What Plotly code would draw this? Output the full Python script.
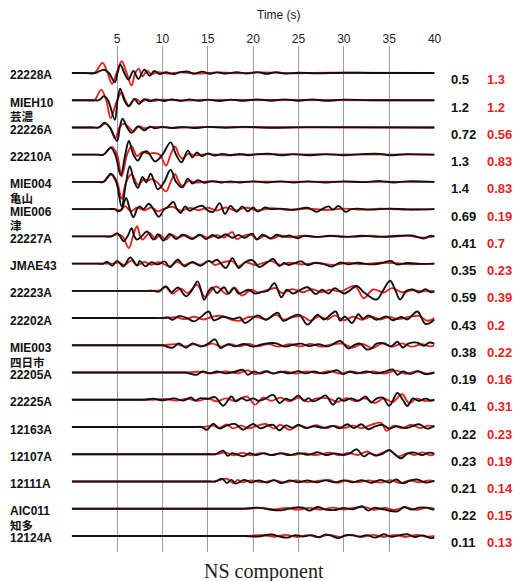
import plotly.graph_objects as go

# Station codes (top to bottom) and optional place names printed under them
stations = ["22228A", "MIEH10", "22226A", "22210A", "MIE004", "MIE006", "22227A",
            "JMAE43", "22223A", "22202A", "MIE003", "22205A", "22225A", "12163A",
            "12107A", "12111A", "AIC011", "12124A"]
place_names = ["", "芸濃", "", "", "亀山", "津", "", "", "", "", "四日市", "", "",
               "", "", "", "知多", ""]

# Peak values: observed (black) and synthetic (red)
obs_peak = ["0.5", "1.2", "0.72", "1.3", "1.4", "0.69", "0.41", "0.35", "0.59",
            "0.43", "0.38", "0.19", "0.41", "0.22", "0.23", "0.21", "0.22", "0.11"]
syn_peak = ["1.3", "1.2", "0.56", "0.83", "0.83", "0.19", "0.7", "0.23", "0.39",
            "0.2", "0.22", "0.16", "0.31", "0.23", "0.19", "0.14", "0.15", "0.13"]

time_ticks = [0, 5, 10, 15, 20, 25, 30, 35, 40]
time_tick_text = ["", "5", "10", "15", "20", "25", "30", "35", "40"]

# Normalised NS waveforms as (time [s], amplitude) pairs, amplitude in trace-spacing units
obs_22228A = [(0, 0), (1.5, 0), (2.6, 0), (3.55, 0.12), (4.1, 0), (4.75, -0.34), (5.05, 0), (5.35, 0.30), (5.8, 0),
              (6.25, -0.24), (6.8, 0.07), (7.35, -0.22), (8.0, 0.12), (8.6, -0.10), (9.1, 0.07), (9.7, -0.04),
              (10.4, 0.03), (11.2, -0.04), (12.0, 0.03), (12.8, 0.05), (13.5, -0.03), (14.4, 0.05), (15.2, -0.03),
              (16.0, 0.02), (17.0, -0.02), (18.2, 0.03), (19.3, -0.02), (20.5, 0.03), (21.5, -0.03), (22.5, 0.03),
              (23.5, -0.02), (25, 0.01), (27, -0.01), (30, 0.01), (33, 0), (40, 0)]
syn_22228A = [(0, 0), (1.5, 0), (2.5, 0), (3.4, 0.37), (3.95, 0), (4.45, -0.40), (4.95, 0), (5.5, 0.43), (6.05, 0),
              (6.6, -0.46), (7.0, 0), (7.4, 0.15), (7.8, -0.12), (8.3, 0.08), (8.8, -0.04), (9.5, 0.03),
              (10.5, -0.02), (12, 0.02), (14, -0.02), (16, 0.02), (18, -0.01), (21, 0.02), (24, -0.01),
              (28, 0.01), (40, 0)]

obs_MIEH10 = [(0, 0), (2.3, 0), (3.0, 0), (3.55, 0.15), (4.0, 0), (4.75, -0.72), (5.05, 0), (5.35, 0.42), (5.8, 0),
              (6.3, -0.22), (6.9, 0.05), (7.4, -0.14), (8.0, 0.04), (8.6, -0.04), (9.3, 0.03), (10.2, -0.03),
              (11.0, 0.03), (12, -0.02), (13, 0.03), (14, -0.02), (15, 0.02), (16.3, -0.03), (17.5, 0.02),
              (19, -0.02), (20.5, 0.03), (22, -0.02), (23.5, 0.03), (25, -0.02), (26.5, 0.03), (28, -0.02),
              (30, 0.02), (33, 0), (40, 0)]
syn_MIEH10 = [(0, 0), (1.8, 0), (2.5, 0), (3.25, 0.38), (3.8, 0), (4.3, -0.66), (4.9, -0.1), (5.5, 0.28), (5.9, 0),
              (6.3, -0.2), (7.0, 0.05), (7.6, -0.06), (8.3, 0.03), (9.0, -0.02), (10, 0.02), (12, -0.01),
              (15, 0.01), (40, 0)]

obs_22226A = [(0, 0), (2.3, 0), (3.0, 0), (3.6, 0.17), (4.2, 0), (5.0, -0.5), (5.3, 0), (5.6, 0.32), (6.1, 0),
              (6.6, -0.2), (7.3, 0.04), (8.0, -0.11), (8.6, 0.03), (9.2, -0.03), (10, 0.02), (11, -0.02),
              (12.2, 0.02), (13.5, -0.02), (15, 0.02), (17, -0.01), (19, 0.02), (22, -0.01), (26, 0.01), (40, 0)]
syn_22226A = [(0, 0), (2.3, 0), (3.0, 0), (3.7, 0.14), (4.2, 0), (4.8, -0.40), (5.25, 0), (5.8, 0.14), (6.3, 0),
              (6.8, -0.15), (7.4, 0.04), (8.0, -0.03), (9, 0.02), (11, -0.01), (14, 0.01), (40, 0)]

obs_22210A = [(0, 0), (2.8, 0), (3.5, 0), (4.3, 0.25), (4.8, 0), (5.4, -0.75), (5.9, 0), (6.3, 0.5), (6.8, 0),
              (7.3, -0.22), (7.8, 0.05), (8.3, 0.12), (9.2, -0.25), (10.0, 0), (10.9, 0.45), (11.5, 0),
              (12.1, -0.28), (12.8, 0.15), (13.3, -0.1), (13.8, 0.08), (14.3, -0.05), (15, 0.04), (15.8, -0.03),
              (16.6, 0.03), (17.5, -0.02), (18.5, 0.03), (19.5, -0.02), (20.5, 0.02), (22, 0.03), (23, -0.02),
              (24.5, 0.02), (26, -0.02), (28, 0.02), (30, -0.02), (32, 0.02), (34, 0.03), (35, -0.02),
              (37, 0.02), (40, 0)]
syn_22210A = [(0, 0), (2.8, 0), (3.5, 0), (4.4, 0.28), (5.0, 0), (5.5, -0.8), (6.1, 0), (6.6, 0.3), (7.2, -0.05),
              (7.8, 0.1), (8.5, 0.03), (9.0, 0.06), (9.7, 0), (10.4, -0.4), (10.9, 0), (11.4, 0.3), (11.8, 0),
              (12.2, -0.15), (12.8, 0.03), (13.5, -0.02), (15, 0.02), (17, -0.02), (20, 0.01), (24, 0.01), (40, 0)]

obs_MIE004 = [(0, 0), (2.8, 0), (3.5, 0), (4.3, 0.3), (4.9, 0), (5.5, -0.9), (6.0, 0), (6.4, 0.58), (6.9, 0),
              (7.3, -0.22), (7.8, 0.18), (8.2, -0.02), (8.7, 0.3), (9.1, 0), (9.5, -0.27), (10.2, 0),
              (10.9, 0.45), (11.5, 0), (12.2, -0.2), (12.8, 0.12), (13.3, -0.06), (13.9, 0.06), (14.6, -0.03),
              (15.5, 0.03), (16.5, -0.02), (17.5, 0.02), (18.5, -0.02), (20, 0.02), (21.5, -0.02), (23, 0.02),
              (24.5, -0.02), (26, 0.02), (28, -0.02), (30, 0.02), (32, -0.01), (34, 0.03), (35.5, -0.02),
              (37, 0.02), (40, 0)]
syn_MIE004 = [(0, 0), (2.8, 0), (3.5, 0), (4.4, 0.27), (5.0, 0), (5.5, -0.62), (6.0, 0), (6.6, 0.28), (7.3, -0.1),
              (8.0, 0.1), (8.4, 0.05), (8.8, 0.1), (9.4, 0), (10.4, -0.35), (10.9, 0), (11.4, 0.28), (11.8, 0),
              (12.2, -0.14), (12.9, 0.04), (13.6, -0.02), (15, 0.02), (17, -0.01), (20, 0.01), (40, 0)]

obs_MIE006 = [(0, 0), (4.0, 0), (4.7, 0), (5.1, -0.08), (5.5, 0), (6.0, 0.41), (6.4, 0), (6.8, -0.3), (7.2, 0),
              (7.5, 0.1), (7.9, 0), (8.5, 0.2), (9.0, 0), (9.6, -0.28), (10.2, 0), (10.5, 0.05), (11.2, 0.26),
              (11.6, 0), (12.0, -0.14), (12.5, 0.1), (13.0, -0.06), (13.6, 0.05), (14.4, 0.12), (15.0, -0.05),
              (15.6, -0.1), (16.3, 0.22), (16.9, -0.18), (17.5, 0.12), (18.2, -0.1), (18.8, 0.1), (19.4, -0.08),
              (20.0, 0.06), (20.5, -0.09), (21.3, 0.06), (22.0, 0.0), (23.0, 0.02), (24.5, -0.02), (26.0, 0.05),
              (27.0, -0.1), (27.6, 0), (28.3, 0.1), (28.8, -0.02), (29.4, 0.12), (30.2, -0.1), (30.8, 0),
              (31.5, 0.02), (33, -0.02), (35, 0.02), (37, -0.01), (40, 0)]
syn_MIE006 = [(0, 0), (4.1, 0), (4.8, 0), (5.4, -0.05), (5.9, 0.11), (6.5, -0.08), (7.2, 0.05), (8.0, -0.04),
              (8.8, 0.06), (9.5, -0.08), (10.2, 0.02), (11.2, 0.08), (12.0, -0.06), (13, 0.04), (14, -0.04),
              (15, 0.05), (16, -0.05), (17, 0.06), (18, -0.05), (19.2, 0.05), (20.5, -0.04), (22, 0.03),
              (24, -0.03), (26, 0.02), (28, -0.03), (30, 0.02), (32, -0.02), (34, 0.02), (36, -0.01), (40, 0)]

obs_22227A = [(0, 0), (3.7, 0), (4.4, 0), (5.0, 0.12), (5.35, 0), (5.7, -0.18), (6.15, 0), (6.6, 0.3), (6.9, 0),
              (7.2, -0.12), (7.7, 0), (8.3, 0.18), (9.0, -0.12), (9.5, 0.08), (10.1, -0.15), (10.8, 0.09),
              (11.5, -0.1), (12.2, 0.06), (13.3, -0.1), (14.1, 0.06), (14.8, -0.1), (15.5, 0.05), (16.2, -0.06),
              (17.0, 0.08), (17.7, -0.05), (18.4, 0.05), (19.1, -0.05), (19.9, 0.1), (20.4, -0.12), (21.0, 0.06),
              (21.9, -0.08), (22.6, 0.06), (23.3, -0.02), (24.0, 0.03), (24.9, -0.07), (25.6, 0.02), (27, -0.02),
              (28.5, 0.02), (30, -0.02), (32, 0.02), (34, -0.02), (36, 0.02), (37.5, 0.03), (38.8, -0.08),
              (39.5, 0.02), (40, 0)]
syn_22227A = [(0, 0), (3.6, 0), (4.3, 0), (5.0, 0.08), (5.6, 0), (6.3, -0.43), (6.75, 0), (7.2, 0.37), (7.55, 0),
              (7.8, -0.12), (8.6, 0.12), (9.2, -0.1), (9.7, 0.06), (10.4, -0.12), (11.0, 0.06), (11.7, -0.05),
              (12.5, 0.05), (13.3, -0.06), (14.2, 0.05), (15.0, -0.05), (16.0, 0.04), (16.8, -0.04), (17.7, 0.16),
              (18.2, -0.1), (19.0, 0.03), (19.7, 0.07), (20.5, -0.1), (21.3, 0.03), (22.0, -0.08), (23, 0.03),
              (24, -0.03), (25.5, 0.02), (27, -0.02), (29, 0.02), (31, -0.02), (33, 0.02), (35, -0.02),
              (37, 0.02), (38.8, -0.05), (40, 0)]

obs_JMAE43 = [(0, 0), (2.8, 0), (3.5, 0), (3.9, 0.07), (4.45, -0.08), (5.0, 0.1), (5.7, -0.1), (6.45, 0.23),
              (7.2, -0.07), (7.5, 0.1), (8.1, -0.1), (8.8, 0.05), (9.5, -0.03), (10.25, 0.08), (10.8, -0.13),
              (11.7, 0.14), (12.4, -0.1), (13.3, 0.06), (14.2, -0.08), (15.1, 0.1), (15.5, 0.05), (16.0, 0.14),
              (17.0, -0.16), (17.7, 0.2), (18.4, -0.16), (19.1, 0.05), (19.9, 0.13), (20.7, -0.13), (21.5, 0.03),
              (22.2, 0.17), (22.9, -0.09), (23.4, 0.02), (23.9, -0.05), (24.6, 0.02), (25.3, 0.08), (26.0, -0.05),
              (26.8, 0.02), (27.8, -0.02), (28.7, -0.11), (29.6, 0.04), (30.5, -0.03), (31.5, 0.03), (33, -0.03),
              (34.2, 0.02), (35.2, 0.1), (35.8, -0.03), (37, 0.02), (38.5, -0.01), (40, 0)]
syn_JMAE43 = [(0, 0), (3.8, 0), (4.5, 0), (5.2, 0.04), (5.8, -0.05), (6.6, 0.11), (7.2, -0.06), (8.0, 0.06),
              (8.8, -0.04), (9.6, 0.05), (10.8, -0.1), (11.6, 0.06), (12.4, -0.05), (13.2, 0.04), (14.2, -0.04),
              (15.1, 0.1), (15.8, -0.05), (16.5, 0.03), (17.7, 0.09), (18.4, -0.1), (19.2, 0.05), (20.2, -0.05),
              (22.0, 0.09), (22.9, -0.04), (24, 0.03), (25.5, -0.03), (27, 0.03), (28.8, -0.05), (30.5, 0.03),
              (32, -0.02), (34, 0.03), (35.5, 0.02), (37, -0.02), (40, 0)]

obs_22223A = [(0, 0), (8.3, 0), (9.0, 0), (9.6, -0.03), (10.4, 0.16), (11.0, -0.05), (11.7, 0.12), (12.6, -0.2),
              (13.2, 0), (13.9, 0.34), (14.6, -0.33), (15.1, 0), (15.5, 0.12), (16.0, -0.08), (16.8, 0.13),
              (17.3, -0.1), (17.9, 0.1), (18.4, -0.1), (19.5, 0.04), (20.2, -0.1), (21.0, -0.04), (21.6, 0),
              (22.35, 0.28), (23.1, -0.24), (23.7, 0.04), (24.4, -0.1), (25.0, 0), (26.0, 0.13), (26.9, -0.12),
              (27.6, 0.04), (28.3, -0.1), (29.0, 0.1), (30.0, -0.1), (30.6, 0), (31.4, 0.18), (32.2, -0.05),
              (33.6, -0.32), (34.3, 0), (35.1, 0.37), (35.7, 0), (36.2, -0.32), (36.9, 0), (37.6, 0.05),
              (38.3, -0.06), (39.0, 0.06), (39.6, -0.05), (40, -0.02)]
syn_22223A = [(0, 0), (8.3, 0), (9.0, 0), (9.7, 0.02), (10.3, 0.16), (11.1, -0.1), (12.0, 0.08), (12.8, -0.08),
              (13.8, 0.22), (14.7, -0.22), (15.9, 0.16), (17.1, -0.12), (17.9, 0.12), (18.8, -0.17), (19.8, 0.04),
              (20.5, -0.06), (21.5, 0.02), (22.5, 0.1), (23.2, -0.08), (24.3, 0.06), (25.5, -0.05), (26.5, 0.06),
              (27.5, -0.05), (28.6, 0.04), (29.6, -0.03), (31.2, 0.18), (32.2, -0.27), (33.2, 0.05), (34.4, -0.06),
              (35.3, 0.1), (36.4, -0.05), (37.5, 0.02), (38.5, -0.02), (40, 0)]

obs_22202A = [(0, 0), (9.3, 0), (10.0, 0), (10.6, 0.02), (11.1, -0.06), (11.85, 0.08), (12.7, 0.0), (13.5, -0.12),
              (14.2, 0.03), (15.1, 0.24), (15.65, -0.08), (16.7, 0.05), (17.8, -0.03), (18.55, 0.02),
              (19.1, -0.18), (20.5, 0.1), (21.4, -0.06), (22.7, 0.2), (23.3, -0.1), (24.35, 0.06), (25.1, 0.12),
              (26.0, -0.24), (27.1, 0.12), (27.8, -0.05), (29.1, 0.24), (29.6, -0.1), (30.1, 0.06), (30.9, -0.18),
              (31.6, 0.14), (32.1, -0.02), (32.7, 0.1), (33.6, -0.06), (34.7, 0.06), (35.4, -0.08), (36.3, 0.04),
              (37.0, -0.05), (38.1, 0.24), (39.0, -0.22), (40, -0.06)]
syn_22202A = [(0, 0), (9.3, 0), (10.0, 0), (11.5, 0.03), (12.5, -0.04), (13.5, 0.05), (14.5, -0.05), (15.5, 0.05),
              (16.5, 0.08), (17.5, -0.05), (18.5, -0.1), (19.5, 0.04), (20.5, 0.03), (21.5, -0.05), (22.5, 0.12),
              (23.4, -0.06), (24.5, 0.05), (25.5, 0.05), (26.3, -0.1), (27.2, 0.06), (28.2, -0.05), (29.0, 0.1),
              (30.0, -0.08), (31.0, 0.05), (32.0, -0.06), (33.0, 0.06), (34.0, -0.05), (35.0, 0.04), (36.0, -0.04),
              (37.2, 0.05), (38.3, 0.08), (39.2, -0.1), (40, 0)]

obs_MIE003 = [(0, 0), (9.3, 0), (10.0, 0), (11.1, -0.09), (11.8, 0.07), (12.6, -0.09), (13.3, 0.07), (14.2, -0.05),
              (15.0, 0.05), (15.8, 0.22), (16.4, -0.1), (17.2, 0.04), (18.0, -0.04), (19.0, 0.05), (20.0, -0.05),
              (21.0, 0.04), (22.4, 0.08), (23.5, -0.05), (24.5, 0.03), (25.3, 0.06), (26.2, -0.03), (27.2, 0.04),
              (28.3, -0.04), (29.6, 0.16), (30.5, -0.12), (31.2, 0.02), (31.8, 0.06), (32.5, -0.15), (33.0, -0.12),
              (33.6, 0.06), (34.4, 0.08), (35.2, -0.04), (35.9, 0.13), (36.5, -0.08), (37.1, 0.06), (38.1, 0.1),
              (38.8, -0.02), (39.4, 0.1), (40, 0.05)]
syn_MIE003 = [(0, 0), (9.3, 0), (10.0, 0), (11.5, 0.04), (12.5, -0.04), (13.5, 0.04), (14.5, -0.03), (15.5, 0.06),
              (16.5, -0.05), (17.5, 0.04), (18.5, -0.04), (19.5, 0.05), (20.5, -0.04), (21.7, 0.05), (22.8, -0.05),
              (24, 0.04), (25.2, -0.04), (26.3, 0.05), (27.5, -0.05), (28.6, 0.03), (29.8, 0.06), (31.0, -0.08),
              (32.0, 0.05), (33.2, -0.1), (34.2, 0.06), (35.3, -0.05), (36.4, 0.07), (37.5, -0.05), (38.6, 0.04),
              (39.5, -0.04), (40, 0)]

obs_22205A = [(0, 0), (11.8, 0), (12.5, 0), (13.8, -0.08), (14.4, 0.04), (15.2, -0.03), (16.0, 0.04), (17.0, -0.03),
              (18.0, 0.03), (18.9, 0.1), (19.4, -0.08), (20.1, 0.04), (20.8, -0.04), (21.5, 0.05), (22.2, -0.04),
              (23.0, 0.03), (24, -0.03), (25, 0.05), (25.8, -0.03), (26.7, 0.04), (27.6, -0.03), (28.5, 0.02),
              (29.3, 0.08), (29.9, -0.06), (30.6, 0.03), (31.5, -0.03), (32.5, 0.04), (33.5, -0.03), (34.5, 0.03),
              (35.4, 0.11), (35.9, -0.08), (36.5, 0.04), (37.3, -0.05), (38.2, 0.05), (39.0, -0.06), (40, 0)]
syn_22205A = [(0, 0), (11.8, 0), (12.5, 0), (14, 0.03), (15.5, -0.03), (17, 0.04), (18.3, -0.03), (19.4, 0.08),
              (20.2, -0.06), (21.2, 0.04), (22.3, -0.03), (23.5, 0.04), (24.7, -0.04), (26, 0.04), (27.2, -0.03),
              (28.4, 0.05), (29.6, -0.04), (30.8, 0.04), (32, -0.03), (33.2, 0.04), (34.4, -0.04), (35.8, 0.07),
              (36.8, -0.05), (38, 0.04), (39.2, -0.04), (40, 0)]

obs_22225A = [(0, 0), (7.3, 0), (8.0, 0), (9.0, 0.04), (10.0, -0.02), (11.3, 0.05), (12.3, -0.03), (13.2, 0.08),
              (13.6, -0.03), (14.2, 0.06), (15.0, 0.03), (15.8, 0.1), (16.7, -0.22), (17.6, 0.12), (18.1, -0.06),
              (18.7, 0.06), (19.3, -0.03), (20.0, 0.05), (20.6, -0.04), (21.3, 0.03), (22.2, 0.18), (22.9, -0.12),
              (23.6, 0.04), (24.2, -0.02), (25.0, 0.16), (25.6, -0.04), (26.1, 0.06), (26.6, -0.06), (27.3, 0.03),
              (28.0, 0.16), (28.8, -0.18), (29.4, 0.06), (30.0, -0.04), (30.8, 0.05), (31.6, -0.04), (32.4, 0.12),
              (33.0, -0.1), (33.6, 0.04), (34.3, 0.08), (35.0, -0.22), (35.9, 0.25), (36.5, 0), (37.0, -0.23),
              (37.6, 0.05), (38.2, -0.04), (39.0, 0.04), (39.6, -0.03), (40, 0)]
syn_22225A = [(0, 0), (8.3, 0), (9.0, 0), (10.3, 0.03), (11.5, -0.03), (12.7, 0.04), (13.9, -0.04), (15.0, 0.05),
              (16.0, -0.06), (17.0, 0.05), (18.0, -0.04), (19.3, 0.12), (20.2, -0.18), (21.1, 0.08), (22.0, -0.04),
              (23.0, 0.08), (24.0, -0.06), (25.0, 0.08), (26.0, -0.07), (27.0, 0.05), (28.3, 0.05), (29.3, -0.08),
              (30.3, 0.06), (31.3, -0.06), (32.3, 0.05), (33.4, -0.12), (34.4, 0.05), (35.4, -0.08), (36.4, 0.2),
              (37.2, -0.12), (38.0, 0.04), (39.0, -0.05), (40, 0)]

obs_12163A = [(0, 0), (13.6, 0), (14.3, 0), (14.9, -0.1), (15.6, 0.12), (16.3, -0.06), (17.0, 0.04), (18.0, 0.11),
              (18.9, -0.1), (19.5, 0.02), (20.0, 0.11), (20.8, -0.05), (21.6, 0.05), (22.2, 0.08), (22.9, -0.12),
              (23.6, 0.06), (24.3, -0.03), (25.0, 0.08), (25.8, -0.04), (26.7, 0.03), (27.7, -0.03), (28.8, 0.04),
              (29.5, -0.05), (30.4, 0.1), (31.1, -0.04), (31.9, 0.1), (32.7, -0.08), (33.5, 0.03), (34.3, 0.08),
              (35.0, -0.06), (35.8, 0.03), (36.8, -0.04), (37.5, 0.02), (38.3, 0.1), (39.2, -0.06), (40, 0.05)]
syn_12163A = [(0, 0), (13.8, 0), (14.5, 0), (15.5, 0.05), (16.3, -0.03), (17.1, 0.09), (17.8, -0.05), (18.7, 0.05),
              (19.5, -0.05), (20.5, 0.05), (21.4, 0.11), (22.3, -0.06), (23.0, 0.08), (24.0, -0.1), (25.0, 0.05),
              (26.0, -0.03), (27.0, 0.07), (28.0, -0.05), (28.9, 0.04), (30.0, -0.04), (31.0, 0.05), (32.0, -0.04),
              (33.0, 0.08), (34.1, 0.15), (34.7, -0.14), (35.5, 0.05), (36.4, -0.04), (37.4, 0.08), (38.4, -0.04),
              (39.3, 0.05), (40, 0)]

obs_12107A = [(0, 0), (15.1, 0), (15.8, 0), (16.7, 0.13), (17.2, -0.06), (17.7, 0.04), (18.9, -0.08), (19.6, 0.04),
              (20.3, -0.03), (21.2, 0.04), (22.0, -0.03), (23.0, 0.03), (24.0, -0.03), (25.0, 0.04), (26.0, -0.02),
              (27.2, 0.07), (28.0, -0.03), (29.0, 0.03), (30.0, -0.03), (30.6, 0.02), (31.4, 0.18), (32.2, -0.08),
              (32.8, 0.03), (33.6, -0.05), (34.3, 0.02), (35.0, 0.16), (35.6, 0), (36.3, -0.15), (37.0, 0.02),
              (37.8, 0.06), (38.6, -0.03), (39.4, 0.06), (40, 0.02)]
syn_12107A = [(0, 0), (15.1, 0), (15.8, 0), (17.0, 0.06), (17.8, -0.04), (18.8, 0.05), (19.8, -0.04), (20.8, 0.04),
              (22.0, -0.03), (23.2, 0.04), (24.4, -0.03), (25.6, 0.04), (26.8, -0.03), (28.5, 0.06), (29.5, -0.04),
              (30.5, 0.05), (31.5, -0.03), (32.6, 0.1), (33.4, -0.05), (34.3, 0.06), (35.1, 0.13), (36.0, -0.08),
              (37.0, 0.04), (37.8, -0.03), (38.7, 0.07), (39.5, -0.04), (40, 0)]

obs_12111A = [(0, 0), (15.1, 0), (15.8, 0), (16.6, 0.1), (17.1, -0.06), (17.6, 0.06), (18.1, -0.08), (19.0, 0.06),
              (19.8, -0.04), (20.6, 0.04), (21.5, -0.04), (22.3, 0.05), (23.1, -0.06), (24.0, 0.04), (25.0, -0.03),
              (26.0, 0.04), (27.0, -0.03), (28.0, 0.04), (29.0, -0.03), (30.0, 0.04), (31.0, -0.03), (32.0, 0.05),
              (33.0, -0.05), (34.0, 0.06), (35.0, -0.04), (35.8, 0.07), (36.5, -0.07), (37.3, 0.03), (38.1, 0.07),
              (39.0, -0.04), (40, 0.02)]
syn_12111A = [(0, 0), (15.1, 0), (15.8, 0), (17.1, 0.1), (17.8, -0.06), (18.3, 0.06), (18.7, -0.03), (19.8, 0.04),
              (21.0, -0.03), (22.3, 0.04), (23.5, -0.03), (24.7, 0.04), (26, -0.03), (27.3, 0.03), (28.5, 0.05),
              (29.3, -0.05), (30.3, 0.04), (31.5, -0.03), (32.8, 0.04), (34, -0.04), (35.2, 0.05), (36.2, -0.06),
              (37.2, 0.04), (38.3, -0.03), (39.4, 0.04), (40, 0)]

obs_AIC011 = [(0, 0), (18.3, 0), (19.0, 0), (20.5, 0.04), (21.8, -0.03), (23.1, -0.06), (24.5, 0.04), (25.5, 0.04),
              (26.2, -0.07), (27.1, 0.06), (28.0, -0.03), (29.0, -0.05), (30.0, 0.03), (31.0, -0.02), (32.0, 0.09),
              (32.7, -0.07), (33.3, 0.03), (34.3, -0.02), (35.9, -0.1), (36.6, 0.06), (37.4, -0.03), (38.3, 0.04),
              (39.1, 0.04), (39.8, -0.03), (40, 0)]
syn_AIC011 = [(0, 0), (18.8, 0), (19.5, 0), (21.0, 0.03), (22.3, -0.03), (23.6, 0.03), (24.9, -0.03), (26.2, 0.03),
              (27.5, -0.03), (28.8, 0.04), (30.0, -0.03), (31.3, 0.04), (32.5, 0.05), (33.3, -0.04), (34.5, 0.03),
              (35.6, -0.04), (36.8, 0.05), (38.0, -0.04), (39.2, 0.04), (40, 0)]

obs_12124A = [(0, 0), (18.3, 0), (19.0, 0), (20.5, -0.02), (22.0, 0.05), (23.0, -0.03), (23.8, -0.06), (24.6, 0.03),
              (25.5, -0.02), (26.4, 0.03), (27.3, -0.05), (27.9, 0.05), (28.5, 0.02), (29.4, -0.08), (30.2, 0.03),
              (31.0, 0.02), (31.8, -0.03), (32.5, 0.03), (33.5, -0.06), (34.4, 0.06), (35.2, -0.03), (36.2, 0.03),
              (37.0, 0.06), (37.8, -0.04), (38.7, 0.02), (39.6, -0.08), (40, -0.05)]
syn_12124A = [(0, 0), (18.8, 0), (19.5, 0), (21.0, 0.03), (22.3, -0.03), (23.6, 0.04), (24.8, -0.04), (26.0, 0.03),
              (27.2, -0.04), (28.4, 0.04), (29.6, -0.04), (30.8, 0.04), (32.0, -0.03), (33.2, 0.04), (34.4, -0.04),
              (35.6, 0.04), (36.8, -0.04), (38.0, 0.04), (39.2, -0.03), (40, 0)]

observed = [obs_22228A, obs_MIEH10, obs_22226A, obs_22210A, obs_MIE004, obs_MIE006, obs_22227A,
            obs_JMAE43, obs_22223A, obs_22202A, obs_MIE003, obs_22205A, obs_22225A, obs_12163A,
            obs_12107A, obs_12111A, obs_AIC011, obs_12124A]
synthetic = [syn_22228A, syn_MIEH10, syn_22226A, syn_22210A, syn_MIE004, syn_MIE006, syn_22227A,
             syn_JMAE43, syn_22223A, syn_22202A, syn_MIE003, syn_22205A, syn_22225A, syn_12163A,
             syn_12107A, syn_12111A, syn_AIC011, syn_12124A]

RED = "#e8231f"
BLACK = "#111111"
W, H = 521, 581
LATIN = "Liberation Sans, Arial, sans-serif"
CJK = "Noto Sans CJK JP, sans-serif"

fig = go.Figure()


def add_wave(series, offset, color, width):
    fig.add_trace(go.Scatter(
        x=[p[0] for p in series],
        y=[offset + p[1] for p in series],
        mode="lines",
        line=dict(color=color, width=width, shape="spline", smoothing=1.0),
        hoverinfo="skip",
        showlegend=False,
    ))


for i in range(len(stations)):
    add_wave(synthetic[i], -i, RED, 1.9)
    add_wave(observed[i], -i, BLACK, 1.9)

annotations = []
for i, code in enumerate(stations):
    annotations.append(dict(x=8 / W, xref="paper", y=-i, yref="y", yshift=-2.5,
                            text=f"<b>{code}</b>", showarrow=False, xanchor="left", yanchor="middle",
                            font=dict(family=LATIN, size=12, color="#111")))
    if place_names[i]:
        annotations.append(dict(x=8 / W, xref="paper", y=-i, yref="y", yshift=-16.3,
                                text=f"<b>{place_names[i]}</b>", showarrow=False, xanchor="left",
                                yanchor="middle", font=dict(family=CJK, size=11.5, color="#111")))
    annotations.append(dict(x=455 / W, xref="paper", y=-i, yref="y", yshift=-7,
                            text=f"<b>{obs_peak[i]}</b>", showarrow=False, xanchor="left", yanchor="middle",
                            font=dict(family=LATIN, size=13, color="#111")))
    annotations.append(dict(x=492 / W, xref="paper", y=-i, yref="y", yshift=-7,
                            text=f"<b>{syn_peak[i]}</b>", showarrow=False, xanchor="left", yanchor="middle",
                            font=dict(family=LATIN, size=13, color=RED)))

annotations.append(dict(x=283 / W, xref="paper", y=1 - 15 / H, yref="paper", text="Time (s)",
                        showarrow=False, xanchor="center", yanchor="middle",
                        font=dict(family=LATIN, size=12, color="#222")))
annotations.append(dict(x=268 / W, xref="paper", y=1 - 571 / H, yref="paper", text="NS component",
                        showarrow=False, xanchor="center", yanchor="middle",
                        font=dict(family="Liberation Serif, Times New Roman, serif", size=20, color="#222")))

fig.update_layout(
    width=W, height=H,
    margin=dict(l=0, r=0, t=0, b=0),
    paper_bgcolor="white", plot_bgcolor="white",
    annotations=annotations,
    xaxis=dict(domain=[72.7 / W, 440.5 / W], range=[0, 40], side="top",
               tickvals=time_ticks, ticktext=time_tick_text, ticks="",
               showgrid=True, gridcolor="#9c9c9c", gridwidth=1,
               zeroline=False, showline=False,
               tickfont=dict(family=LATIN, size=12, color="#222")),
    yaxis=dict(domain=[1 - 552 / H, 1 - 46 / H], range=[-17.59, 0.99],
               showgrid=False, zeroline=False, showticklabels=False, showline=False),
)

fig.write_html("out.html")
